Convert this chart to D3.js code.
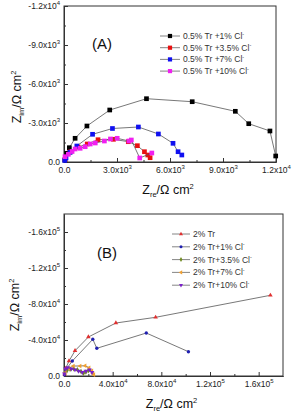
<!DOCTYPE html>
<html>
<head>
<meta charset="utf-8">
<script src="https://cdn.jsdelivr.net/npm/d3@7"></script>
<style>
  body { margin: 0; background: white; }
  text { font-family: "Liberation Sans", Arial, sans-serif; }
</style>
</head>
<body>
<div id="chart"></div>
<script>
// ---- panel A data (0.5% Tr), Zre and -Zim in ohm cm2
let namesA = ["0.5% Tr +1% Cl", "0.5% Tr +3.5% Cl", "0.5% Tr +7% Cl", "0.5% Tr +10% Cl"];
let colorsA = ["#000000", "#e81010", "#1010f0", "#f020f0"];
let zreA1 = [50, 154, 303, 629, 1297, 2589, 4669, 7257, 9697, 10457, 11657, 11983];
let zimA1 = [150, 669, 1100, 1823, 2769, 4000, 4869, 4638, 3900, 2946, 2385, 462];
let zreA2 = [60, 343, 800, 1314, 1926, 2800, 3640, 4154, 4554, 4743, 4874];
let zimA2 = [200, 769, 1150, 1385, 1715, 1746, 1562, 1254, 792, 538, 331];
let zreA3 = [40, 114, 343, 726, 1617, 2743, 4211, 5343, 6171, 6457, 6669];
let zimA3 = [120, 308, 746, 1231, 2131, 2577, 2692, 2154, 1438, 792, 538];
let zreA4 = [57, 246, 457, 629, 914, 1200, 1486, 1771, 2286, 2629, 3011, 3674, 3811, 4286, 4971];
let zimA4 = [408, 592, 808, 1000, 1054, 1177, 1385, 1462, 1615, 1769, 1823, 1615, 1692, 308, 692];
let ticksA = [0, 3000, 6000, 9000, 12000];

// ---- panel B data (2% Tr)
let namesB = ["2% Tr", "2% Tr+1% Cl", "2% Tr+3.5%  Cl", "2% Tr+7%  Cl", "2% Tr+10%  Cl"];
let colorsB = ["#e03030", "#2020b0", "#708a20", "#f0a030", "#7a20c8"];
let zreB1 = [500, 1400, 4124, 9072, 20041, 42639, 75299, 169649];
let zimB1 = [2000, 8500, 16667, 28111, 43333, 58889, 65222, 89667];
let zreB2 = [400, 1500, 6845, 23670, 26969, 67629, 102268];
let zimB2 = [1500, 7000, 16667, 40778, 30778, 47778, 27000];
let zreB3 = [500, 2500, 5000, 8000, 11000, 14000, 16000, 18000, 20000];
let zimB3 = [3000, 6000, 7500, 8000, 7000, 5000, 3000, 4500, 6000];
let zreB4 = [1000, 4000, 7670, 13196, 17320, 20619, 22845, 23670, 24500];
let zimB4 = [4000, 8500, 11111, 11111, 11444, 9222, 5889, 3000, 1500];
let zreB5 = [300, 1200, 3000, 6000, 9000, 12000, 15000, 18000, 21000, 23000];
let zimB5 = [2500, 8000, 9500, 8000, 7000, 5500, 4000, 5500, 7000, 4000];
let ticksB = [0, 40000, 80000, 120000, 160000];

let svg = d3.select("#chart").append("svg")
    .attr("width", 292).attr("height", 419)
    .attr("style", "background-color:white");

// tick label like "3.0x10^3"
function sciLabel(t, v, neg)
{
	t.text(null);
	if (v == 0) { t.text("0.0"); return; }
	let e = Math.floor(Math.log10(Math.abs(v)) + 1e-9);
	let m = (v / Math.pow(10, e)).toFixed(1);
	t.append("tspan").text((neg ? "-" : "") + m + "x10");
	t.append("tspan").attr("dy", -4).attr("font-size", 6).text(e);
}

function symbolPath(kind, size)
{
	let s = {square: d3.symbolSquare, circle: d3.symbolCircle, up: d3.symbolTriangle,
	         diamond: d3.symbolDiamond, down: d3.symbolTriangle, left: d3.symbolTriangle}[kind];
	return d3.symbol().type(s).size(size)();
}
function symbolRot(kind)
{
	if (kind == "down") return 180;
	if (kind == "left") return -90;
	return 0;
}

function drawPanel(p)
{
	let x = d3.scaleLinear().domain([0, p.max]).range([p.left, p.right]);
	let y = d3.scaleLinear().domain([0, p.max]).range([p.bottom, p.top]);
	let g = svg.append("g");

	// frame
	g.append("rect").attr("x", p.left).attr("y", p.top)
	  .attr("width", p.right - p.left).attr("height", p.bottom - p.top)
	  .attr("fill", "none").attr("stroke", "#333").attr("stroke-width", 1);

	let minor = d3.range(p.step / 2, p.max, p.step);

	// x axis
	let gx = g.append("g").attr("transform", "translate(0," + p.bottom + ")")
	  .call(d3.axisBottom(x).tickValues(p.ticks).tickSizeInner(-4).tickSizeOuter(0).tickPadding(5));
	gx.selectAll(".tick text").attr("font-size", 8.5).attr("fill", "#222")
	  .each(function(d) { sciLabel(d3.select(this), d, false); });
	gx.append("g").call(d3.axisBottom(x).tickValues(minor).tickSizeInner(-2).tickSizeOuter(0).tickFormat(""));

	// y axis (labels shown negative)
	let gy = g.append("g").attr("transform", "translate(" + p.left + ",0)")
	  .call(d3.axisLeft(y).tickValues(p.ticks).tickSizeInner(-4).tickSizeOuter(0).tickPadding(4));
	gy.selectAll(".tick text").attr("font-size", 8.5).attr("fill", "#222")
	  .each(function(d) { sciLabel(d3.select(this), d, true); });
	gy.append("g").call(d3.axisLeft(y).tickValues(minor).tickSizeInner(-2).tickSizeOuter(0).tickFormat(""));

	g.selectAll(".domain").attr("stroke", "#333");
	g.selectAll(".tick line").attr("stroke", "#333");

	// series
	p.series.forEach(function(s, k) {
		let pts = s.zre.map(function(v, i) { return [v, s.zim[i]]; });
		g.append("path").datum(pts)
		  .attr("d", d3.line().x(function(d) { return x(d[0]); }).y(function(d) { return y(d[1]); }))
		  .attr("fill", "none").attr("stroke", "#555").attr("stroke-width", 0.8);
		g.selectAll(".m" + k).data(pts).enter().append("path")
		  .attr("d", symbolPath(s.shape, p.msize))
		  .attr("transform", function(d) { return "translate(" + x(d[0]) + "," + y(d[1]) + ") rotate(" + symbolRot(s.shape) + ")"; })
		  .attr("fill", s.color);
	});

	// legend
	let lg = g.append("g");
	p.series.forEach(function(s, k) {
		let ly = p.legY + k * p.legDy;
		lg.append("line").attr("x1", p.legX).attr("x2", p.legX + p.legW)
		  .attr("y1", ly).attr("y2", ly).attr("stroke", "#666").attr("stroke-width", 0.8);
		lg.append("path").attr("d", symbolPath(s.shape, p.msize * 0.8))
		  .attr("transform", "translate(" + (p.legX + p.legW / 2) + "," + ly + ") rotate(" + symbolRot(s.shape) + ")")
		  .attr("fill", s.color);
		let t = lg.append("text").attr("x", p.legX + p.legW + 3).attr("y", ly + 3)
		  .attr("font-size", 8.5).attr("fill", "#333");
		t.append("tspan").text(s.name);
		if (k > 0 || p.firstCl) t.append("tspan").attr("dy", -3.5).attr("font-size", 5.5).text("-");
	});

	// panel label
	g.append("text").attr("x", p.labX).attr("y", p.labY).attr("font-size", 15).attr("fill", "#111").text(p.label);

	// axis titles
	let tx = g.append("text").attr("x", (p.left + p.right) / 2 - 2).attr("y", p.bottom + 32)
	  .attr("text-anchor", "middle").attr("font-size", 12.5).attr("fill", "#111");
	tx.append("tspan").text("Z");
	tx.append("tspan").attr("dy", 3).attr("font-size", 7.5).text("re");
	tx.append("tspan").attr("dy", -3).text("/\u03a9 cm");
	tx.append("tspan").attr("dy", -5).attr("font-size", 7.5).text("2");

	let ty = g.append("text").attr("transform", "translate(" + p.yTitleX + "," + p.yTitleY + ") rotate(-90)")
	  .attr("text-anchor", "middle").attr("font-size", 12.5).attr("fill", "#111");
	ty.append("tspan").text("Z");
	ty.append("tspan").attr("dy", 3).attr("font-size", 7.5).text("im");
	ty.append("tspan").attr("dy", -3).text("/\u03a9 cm");
	ty.append("tspan").attr("dy", -5).attr("font-size", 7.5).text("2");
}

drawPanel({
	left: 64, right: 276, top: 6, bottom: 162, max: 12000, step: 3000, ticks: ticksA,
	msize: 22, label: "(A)", labX: 92, labY: 49, yTitleX: 21, yTitleY: 97,
	legX: 160, legY: 36, legDy: 11.7, legW: 20, firstCl: true,
	series: [
		{name: namesA[0], color: colorsA[0], shape: "square", zre: zreA1, zim: zimA1},
		{name: namesA[1], color: colorsA[1], shape: "square", zre: zreA2, zim: zimA2},
		{name: namesA[2], color: colorsA[2], shape: "square", zre: zreA3, zim: zimA3},
		{name: namesA[3], color: colorsA[3], shape: "square", zre: zreA4, zim: zimA4}
	]
});

drawPanel({
	left: 64, right: 283, top: 214, bottom: 376, max: 180000, step: 40000, ticks: ticksB,
	msize: 9, label: "(B)", labX: 97, labY: 258, yTitleX: 19, yTitleY: 305,
	legX: 172, legY: 234, legDy: 12.8, legW: 18, firstCl: false,
	series: [
		{name: namesB[0], color: colorsB[0], shape: "up", zre: zreB1, zim: zimB1},
		{name: namesB[1], color: colorsB[1], shape: "circle", zre: zreB2, zim: zimB2},
		{name: namesB[2], color: colorsB[2], shape: "diamond", zre: zreB3, zim: zimB3},
		{name: namesB[3], color: colorsB[3], shape: "left", zre: zreB4, zim: zimB4},
		{name: namesB[4], color: colorsB[4], shape: "down", zre: zreB5, zim: zimB5}
	]
});
</script>
</body>
</html>
